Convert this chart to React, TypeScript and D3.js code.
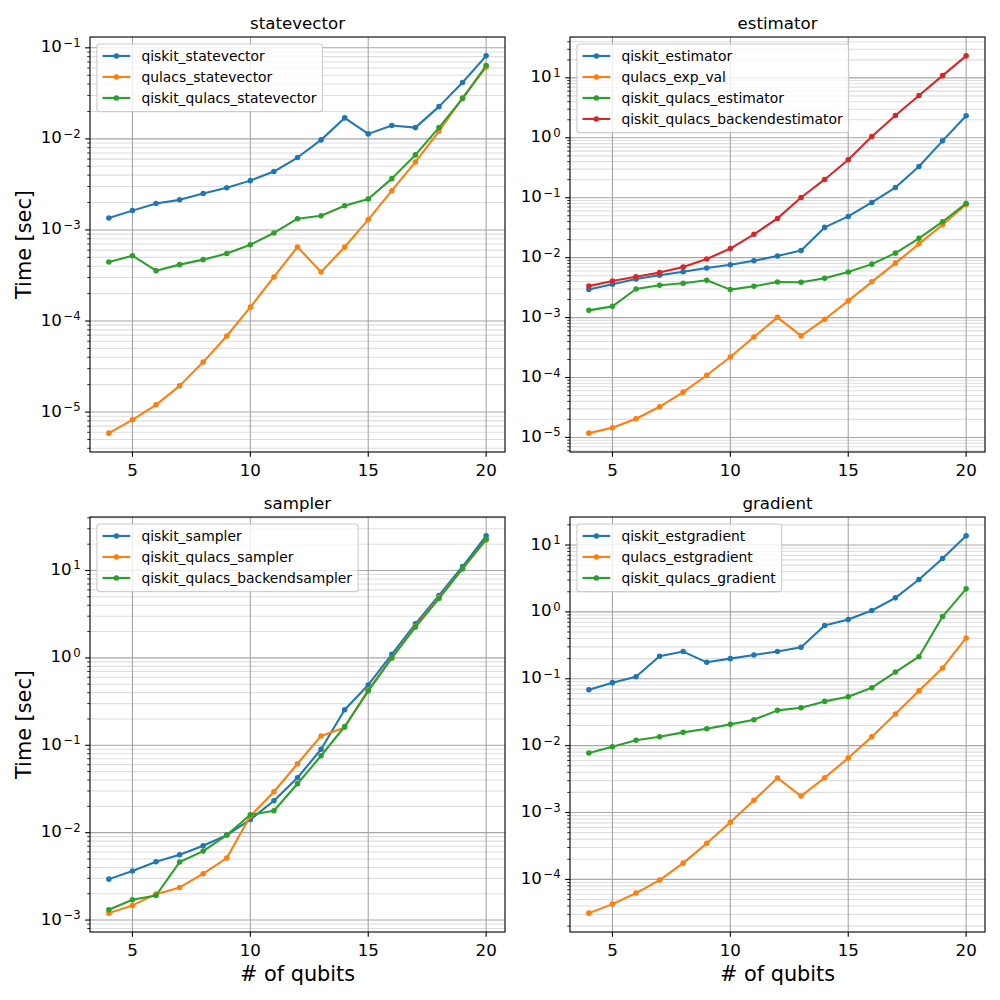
import React from "react";
import * as d3 from "d3";

const qubits = [4, 5, 6, 7, 8, 9, 10, 11, 12, 13, 14, 15, 16, 17, 18, 19, 20];
const xTicks = [5, 10, 15, 20];

// statevector
const svQiskit = [1.35e-3, 1.63e-3, 1.95e-3, 2.14e-3, 2.51e-3, 2.9e-3, 3.48e-3, 4.38e-3, 6.24e-3, 9.75e-3, 0.017, 0.01135, 0.014, 0.0133, 0.0226, 0.0416, 0.0816];
const svQulacs = [5.87e-6, 8.22e-6, 1.2e-5, 1.94e-5, 3.54e-5, 6.84e-5, 1.42e-4, 3.05e-4, 6.5e-4, 3.45e-4, 6.5e-4, 1.3e-3, 2.7e-3, 5.58e-3, 0.0121, 0.0284, 0.0612];
const svQiskitQulacs = [4.45e-4, 5.22e-4, 3.57e-4, 4.16e-4, 4.72e-4, 5.5e-4, 6.89e-4, 9.26e-4, 1.33e-3, 1.43e-3, 1.84e-3, 2.19e-3, 3.66e-3, 6.67e-3, 0.0133, 0.0277, 0.0638];

// estimator
const estQiskit = [2.95e-3, 3.6e-3, 4.42e-3, 5.1e-3, 5.82e-3, 6.7e-3, 7.6e-3, 8.85e-3, 0.0107, 0.0132, 0.032, 0.0488, 0.0835, 0.148, 0.333, 0.89, 2.33];
const estQulacs = [1.18e-5, 1.45e-5, 2.05e-5, 3.25e-5, 5.7e-5, 1.09e-4, 2.2e-4, 4.75e-4, 1.01e-3, 4.95e-4, 9.4e-4, 1.9e-3, 3.95e-3, 8.1e-3, 0.017, 0.0355, 0.0773];
const estQiskitQulacs = [1.32e-3, 1.54e-3, 3.0e-3, 3.46e-3, 3.74e-3, 4.2e-3, 2.93e-3, 3.33e-3, 3.93e-3, 3.9e-3, 4.55e-3, 5.75e-3, 7.8e-3, 0.0119, 0.021, 0.0398, 0.0804];
const estBackend = [3.35e-3, 4.08e-3, 4.82e-3, 5.63e-3, 7.0e-3, 9.5e-3, 0.0142, 0.0245, 0.0452, 0.101, 0.202, 0.43, 1.05, 2.36, 5.07, 10.9, 23.3];

// sampler
const smpQiskit = [2.94e-3, 3.64e-3, 4.65e-3, 5.59e-3, 7.08e-3, 9.38e-3, 0.0141, 0.0232, 0.0425, 0.09, 0.255, 0.49, 1.1, 2.45, 5.17, 11.1, 24.9];
const smpQiskitQulacs = [1.2e-3, 1.47e-3, 1.98e-3, 2.36e-3, 3.39e-3, 5.12e-3, 0.0155, 0.0294, 0.0614, 0.128, 0.16, 0.43, 1.0, 2.3, 4.9, 10.5, 22.3];
const smpBackend = [1.31e-3, 1.71e-3, 1.91e-3, 4.61e-3, 6.15e-3, 9.38e-3, 0.016, 0.0178, 0.0363, 0.0759, 0.164, 0.417, 1.0, 2.25, 4.78, 10.5, 22.9];

// gradient
const gradQiskit = [0.0687, 0.0875, 0.107, 0.217, 0.255, 0.176, 0.2, 0.227, 0.255, 0.296, 0.624, 0.767, 1.05, 1.62, 3.05, 6.28, 13.7];
const gradQulacs = [3.13e-5, 4.27e-5, 6.24e-5, 9.77e-5, 1.75e-4, 3.46e-4, 7.17e-4, 1.53e-3, 3.28e-3, 1.76e-3, 3.31e-3, 6.52e-3, 0.0136, 0.0297, 0.0664, 0.145, 0.408];
const gradQiskitQulacs = [7.74e-3, 9.63e-3, 0.012, 0.0136, 0.0158, 0.0179, 0.0208, 0.0244, 0.0337, 0.0369, 0.0459, 0.054, 0.0736, 0.126, 0.214, 0.851, 2.21];

const C_BLUE = "#1f77b4";
const C_ORANGE = "#ff7f0e";
const C_GREEN = "#2ca02c";
const C_RED = "#d62728";

type Series = { name: string; values: number[]; color: string };
type Panel = { title: string; left: number; top: number; ylabel: boolean; xlabel: boolean; series: Series[] };

const panels: Panel[] = [
  {
    title: "statevector", left: 90, top: 37, ylabel: true, xlabel: false,
    series: [
      { name: "qiskit_statevector", values: svQiskit, color: C_BLUE },
      { name: "qulacs_statevector", values: svQulacs, color: C_ORANGE },
      { name: "qiskit_qulacs_statevector", values: svQiskitQulacs, color: C_GREEN },
    ],
  },
  {
    title: "estimator", left: 570, top: 37, ylabel: false, xlabel: false,
    series: [
      { name: "qiskit_estimator", values: estQiskit, color: C_BLUE },
      { name: "qulacs_exp_val", values: estQulacs, color: C_ORANGE },
      { name: "qiskit_qulacs_estimator", values: estQiskitQulacs, color: C_GREEN },
      { name: "qiskit_qulacs_backendestimator", values: estBackend, color: C_RED },
    ],
  },
  {
    title: "sampler", left: 90, top: 517, ylabel: true, xlabel: true,
    series: [
      { name: "qiskit_sampler", values: smpQiskit, color: C_BLUE },
      { name: "qiskit_qulacs_sampler", values: smpQiskitQulacs, color: C_ORANGE },
      { name: "qiskit_qulacs_backendsampler", values: smpBackend, color: C_GREEN },
    ],
  },
  {
    title: "gradient", left: 570, top: 517, ylabel: false, xlabel: true,
    series: [
      { name: "qiskit_estgradient", values: gradQiskit, color: C_BLUE },
      { name: "qulacs_estgradient", values: gradQulacs, color: C_ORANGE },
      { name: "qiskit_qulacs_gradient", values: gradQiskitQulacs, color: C_GREEN },
    ],
  },
];

const AW = 415;
const AH = 415;
const FONT = "DejaVu Sans, sans-serif";
const TICK_FS = 16.67;
const LEG_FS = 13.89;

let measureCtx: CanvasRenderingContext2D | null = null;
function measure(text: string, fs: number): number {
  try {
    if (!measureCtx) measureCtx = document.createElement("canvas").getContext("2d");
    if (measureCtx) {
      measureCtx.font = `${fs}px "DejaVu Sans"`;
      return measureCtx.measureText(text).width;
    }
  } catch (e) {}
  return text.length * fs * 0.6;
}

function PanelView({ p }: { p: Panel }) {
  const L = p.left, T = p.top, R = L + AW, B = T + AH;
  const x = d3.scaleLinear().domain([3.2, 20.8]).range([L, R]);
  const all = p.series.flatMap((s) => s.values);
  const lo = Math.log10(d3.min(all)!);
  const hi = Math.log10(d3.max(all)!);
  const m = (hi - lo) * 0.05;
  const y = d3.scaleLog().domain([Math.pow(10, lo - m), Math.pow(10, hi + m)]).range([B, T]);
  const [d0, d1] = y.domain();
  const majors: number[] = [];
  const minors: number[] = [];
  for (let e = Math.floor(Math.log10(d0)); e <= Math.ceil(Math.log10(d1)); e++) {
    const v = Math.pow(10, e);
    if (v >= d0 && v <= d1) majors.push(e);
    for (let k = 2; k <= 9; k++) {
      const mv = k * v;
      if (mv >= d0 && mv <= d1) minors.push(mv);
    }
  }
  const line = d3
    .line<number>()
    .x((_, i) => x(qubits[i]))
    .y((d) => y(d));

  const maxW = d3.max(p.series, (s) => measure(s.name, LEG_FS))!;
  const lx = L + 6.94;
  const ly = T + 6.94;
  const lw = 44.45 + maxW + 6;
  const lh = 21 * p.series.length + 4.7;

  return (
    <g>
      {/* minor grid */}
      {minors.map((v, i) => (
        <line key={"mg" + i} x1={L} x2={R} y1={y(v)} y2={y(v)} stroke="#dedede" strokeWidth={1.1} />
      ))}
      {/* major grid */}
      {majors.map((e) => (
        <line key={"Mg" + e} x1={L} x2={R} y1={y(Math.pow(10, e))} y2={y(Math.pow(10, e))} stroke="#a6a6a6" strokeWidth={1.1} />
      ))}
      {xTicks.map((t) => (
        <line key={"xg" + t} x1={x(t)} x2={x(t)} y1={T} y2={B} stroke="#a6a6a6" strokeWidth={1.1} />
      ))}
      {/* series */}
      {p.series.map((s) => (
        <g key={s.name}>
          <path d={line(s.values)!} fill="none" stroke={s.color} strokeWidth={2.08} strokeLinejoin="round" />
          {s.values.map((v, i) => (
            <circle key={i} cx={x(qubits[i])} cy={y(v)} r={2.08} fill={s.color} stroke={s.color} strokeWidth={1.39} />
          ))}
        </g>
      ))}
      {/* spines */}
      <rect x={L} y={T} width={AW} height={AH} fill="none" stroke="#000" strokeWidth={1.11} />
      {/* x ticks */}
      {xTicks.map((t) => (
        <g key={"xt" + t}>
          <line x1={x(t)} x2={x(t)} y1={B} y2={B + 4.86} stroke="#000" strokeWidth={1.11} />
          <text x={x(t)} y={B + 24} textAnchor="middle" fontSize={TICK_FS} fontFamily={FONT} fill="#000">
            {t}
          </text>
        </g>
      ))}
      {/* y ticks */}
      {minors.map((v, i) => (
        <line key={"ymt" + i} x1={L - 2.78} x2={L} y1={y(v)} y2={y(v)} stroke="#000" strokeWidth={0.83} />
      ))}
      {majors.map((e) => {
        const yy = y(Math.pow(10, e));
        return (
          <g key={"yt" + e}>
            <line x1={L - 4.86} x2={L} y1={yy} y2={yy} stroke="#000" strokeWidth={1.11} />
            <text x={L - 9.4} y={yy + 4.5} textAnchor="end" fontSize={TICK_FS} fontFamily={FONT} fill="#000">
              10
              <tspan dx={1.5} dy={-5.5} fontSize={11.67}>
                {e < 0 ? "\u2212" + Math.abs(e) : String(e)}
              </tspan>
            </text>
          </g>
        );
      })}
      {/* title */}
      <text x={(L + R) / 2} y={T - 8} textAnchor="middle" fontSize={16.67} fontFamily={FONT} fill="#000">
        {p.title}
      </text>
      {p.ylabel && (
        <text
          x={31}
          y={(T + B) / 2}
          transform={`rotate(-90, 31, ${(T + B) / 2})`}
          textAnchor="middle"
          fontSize={20.83}
          fontFamily={FONT}
          fill="#000"
        >
          Time [sec]
        </text>
      )}
      {p.xlabel && (
        <text x={(L + R) / 2} y={B + 49} textAnchor="middle" fontSize={20.83} fontFamily={FONT} fill="#000">
          # of qubits
        </text>
      )}
      {/* legend */}
      <rect x={lx} y={ly} width={lw} height={lh} rx={2.8} ry={2.8} fill="#fff" fillOpacity={0.8} stroke="#cccccc" strokeWidth={1.1} />
      {p.series.map((s, i) => {
        const cy = ly + 12 + 21 * i;
        const x0 = lx + 5.56;
        const x1 = x0 + 27.78;
        return (
          <g key={"lg" + s.name}>
            <line x1={x0} x2={x1} y1={cy} y2={cy} stroke={s.color} strokeWidth={2.08} />
            <circle cx={(x0 + x1) / 2} cy={cy} r={2.08} fill={s.color} stroke={s.color} strokeWidth={1.39} />
            <text x={lx + 44.45} y={cy + 4.8} fontSize={LEG_FS} fontFamily={FONT} fill="#000">
              {s.name}
            </text>
          </g>
        );
      })}
    </g>
  );
}

export default function App() {
  return (
    <svg
      width={1000}
      height={1000}
      viewBox="0 0 1000 1000"
      style={{ position: "absolute", left: 0, top: 0, background: "#fff" }}
    >
      <rect x={0} y={0} width={1000} height={1000} fill="#fff" />
      {panels.map((p) => (
        <PanelView key={p.title} p={p} />
      ))}
    </svg>
  );
}
